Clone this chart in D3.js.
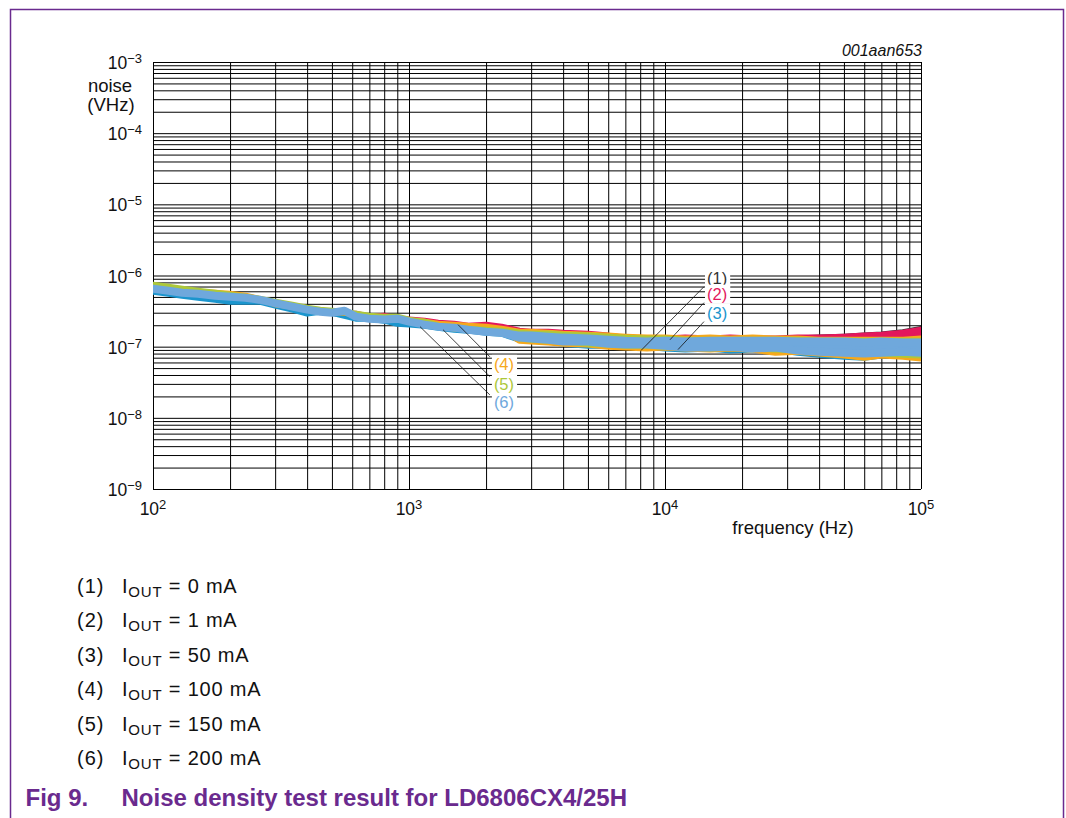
<!DOCTYPE html>
<html lang="en">
<meta charset="utf-8"/>
<head>
<style>
  body { margin: 0; background: #fff; }
  svg { display: block; font-family: Arial, "Liberation Sans", Helvetica, sans-serif; }
  .grid line { stroke: #000; stroke-width: 1; }
  .grid path { display: none; }
</style>
</head>
<body>
<svg width="1066" height="818"></svg>

<script src="https://d3js.org/d3.v7.min.js"></script>
<script>
// frequency points (Hz)
let freqHz = [100,115,130,150,175,200,230,260,300,350,400,450,500,560,620,700,800,900,1000,1150,1300,1500,1700,2000,2300,
              2700,3000,3500,4000,5000,6000,7000,8500,10000,12000,15000,18000,22000,27000,33000,40000,50000,60000,70000,85000,100000]

// noise density, nV/sqrt(Hz): upper (hi) and lower (lo) edge of each trace
let hi1 = [674,632,592,555,520,488,457,443,402,365,331,310,300,281,264,255,240,232,225,210,197,191,179,168,162,
           157,152,152,147,143,138,134,130,125,125,125,125,125,125,130,134,138,143,148,160,177]
let lo1 = [674,632,592,555,520,488,457,443,402,365,331,310,300,281,264,255,240,232,225,210,197,191,179,168,162,
           125,121,118,114,107,103,100,97,100,97,97,97,94,94,91,88,85,82,85,85,88]

let hi2 = [696,653,612,573,537,504,488,457,415,377,342,320,310,291,291,264,272,247,240,232,217,210,197,204,191,
           168,162,162,157,152,143,134,130,130,134,130,134,130,130,134,134,138,143,147,157,173]
let lo2 = [696,653,612,573,537,504,488,457,415,377,342,320,310,291,291,264,272,247,240,232,217,210,197,204,191,
           143,138,134,125,125,118,114,114,110,103,103,107,100,103,94,91,88,85,88,91,88]

let hi3 = [592,555,520,488,457,429,429,429,377,331,291,310,300,272,247,247,232,210,204,197,185,173,168,157,152,
           143,138,138,134,130,125,125,121,121,121,121,121,121,121,118,118,118,114,118,114,114]
let lo3 = [592,555,520,488,457,429,429,429,377,331,291,310,300,272,247,247,232,210,204,197,185,173,168,157,152,
           125,121,118,110,103,103,100,100,94,91,94,88,91,91,82,77,72,70,75,75,72]

let hi4 = [719,674,632,592,573,555,520,470,395,365,342,320,310,300,281,264,255,247,232,225,210,204,197,191,179,
           162,162,157,152,147,143,138,134,134,130,134,130,134,130,130,125,125,125,125,125,130]
let lo4 = [719,674,632,592,573,555,520,470,395,365,342,320,310,300,281,264,255,247,232,225,210,204,197,191,179,
           121,118,114,110,107,100,97,94,97,94,91,94,91,82,85,80,75,70,75,72,68]

let hi5 = [743,696,653,612,573,537,504,472,429,389,353,331,320,310,291,272,264,264,240,225,197,179,179,173,168,
           157,152,152,147,143,138,134,130,130,125,125,125,125,125,125,121,121,121,121,121,121]
let lo5 = [743,696,653,612,573,537,504,472,429,389,353,331,320,310,291,272,264,264,240,225,197,179,179,173,168,
           130,125,121,118,110,107,103,103,100,97,94,97,94,91,88,85,82,80,80,77,75]

let hi6 = [653,612,573,555,520,504,488,457,410,365,331,310,300,320,264,247,240,247,225,204,191,185,173,162,157,
           143,143,138,134,130,125,121,118,121,118,121,121,121,121,118,118,118,114,118,114,114]
let lo6 = [653,612,573,555,520,504,488,457,410,365,331,310,300,320,264,247,240,247,225,204,191,185,173,162,157,
           134,130,125,118,118,110,107,107,103,97,97,100,94,97,88,85,82,80,82,85,82]

let seriesIds = ["(1)","(2)","(3)","(4)","(5)","(6)"]
let seriesCurrents = ["0 mA","1 mA","50 mA","100 mA","150 mA","200 mA"]

// callout leader lines: [freq Hz, nV/sqrt(Hz)] at label end and at trace end
let calloutFrom = [[14200,696],[14200,415],[14200,225],[2070,72],[2070,38],[2070,21]]
let calloutTo   = [[8050,88],[10460,125],[11240,91],[1554,204],[1358,173],[1104,191]]

let xExponents = [2,3,4,5]
let yExponents = [-3,-4,-5,-6,-7,-8,-9]

let colors = ["#333333","#e3175c","#1b95cd","#f6a81c","#adc83a","#6fa8dc"]
let widths = [6,6,6,6,6,8]
let purple = "#6a2a8e"

let svg = d3.select("svg")
let plotL = 153, plotR = 921, plotT = 62, plotB = 489

let x = d3.scaleLog().domain([1e2, 1e5]).range([plotL, plotR])
let y = d3.scaleLog().domain([1e-9, 1e-3]).range([plotB, plotT])

// page frame
svg.append("path")
   .attr("d", "M10.5,818 V9.5 H1063.5 V818")
   .attr("fill", "none")
   .attr("stroke", purple)
   .attr("stroke-width", 1.5)

// grid
svg.append("g").attr("class", "grid")
   .attr("transform", "translate(0," + plotB + ")")
   .call(d3.axisBottom(x).tickValues(x.ticks()).tickSize(-(plotB - plotT)).tickFormat(""))
svg.append("g").attr("class", "grid")
   .attr("transform", "translate(" + plotL + ",0)")
   .call(d3.axisLeft(y).tickValues(y.ticks()).tickSize(-(plotR - plotL)).tickFormat(""))

// traces
svg.append("clipPath").attr("id", "plot")
   .append("rect").attr("x", plotL).attr("y", plotT).attr("width", plotR - plotL).attr("height", plotB - plotT)

let his = [hi1, hi2, hi3, hi4, hi5, hi6]
let los = [lo1, lo2, lo3, lo4, lo5, lo6]
let area = d3.area()
   .x(d => x(d.f))
   .y0(d => y(d.lo * 1e-9))
   .y1(d => y(d.hi * 1e-9))

let traces = svg.append("g").attr("clip-path", "url(#plot)")
his.forEach((hi, i) => {
  let pts = freqHz.map((f, k) => ({f: f, hi: hi[k], lo: los[i][k]}))
  traces.append("path")
     .attr("d", area(pts))
     .attr("fill", colors[i])
     .attr("stroke", colors[i])
     .attr("stroke-width", widths[i])
     .attr("stroke-linejoin", "round")
})

// callouts
let callouts = svg.append("g")
seriesIds.forEach((id, i) => {
  let x0 = x(calloutFrom[i][0]), y0 = y(calloutFrom[i][1] * 1e-9)
  let x1 = x(calloutTo[i][0]), y1 = y(calloutTo[i][1] * 1e-9)
  callouts.append("line")
     .attr("x1", x0).attr("y1", y0).attr("x2", x1).attr("y2", y1)
     .attr("stroke", "#111").attr("stroke-width", 0.8)
  let upper = i < 3
  let bg = callouts.append("rect").attr("fill", "#fff")
  let t = callouts.append("text")
     .attr("x", x0 + (upper ? 3 : 4))
     .attr("y", upper ? y0 - 3 : y0 + 13)
     .attr("font-size", 16.5)
     .attr("fill", colors[i])
     .text(id)
  let b = t.node().getBBox()
  bg.attr("x", b.x - 2).attr("y", b.y).attr("width", b.width + 5).attr("height", b.height + 1)
})

// tick labels
xExponents.forEach(e => {
  let t = svg.append("text")
     .attr("x", x(Math.pow(10, e))).attr("y", 515)
     .attr("text-anchor", "middle").attr("font-size", 17.5).attr("fill", "#111")
  t.append("tspan").text("10")
  t.append("tspan").attr("dy", -6).attr("font-size", 13).text(e)
})
yExponents.forEach(e => {
  let t = svg.append("text")
     .attr("x", 142).attr("y", y(Math.pow(10, e)) + 7)
     .attr("text-anchor", "end").attr("font-size", 17.5).attr("fill", "#111")
  t.append("tspan").text("10")
  t.append("tspan").attr("dy", -6).attr("font-size", 13).text("\u2212" + (-e))
})

svg.append("text").attr("x", 110).attr("y", 92).attr("text-anchor", "middle")
   .attr("font-size", 18.5).attr("fill", "#111").text("noise")
svg.append("text").attr("x", 111).attr("y", 111).attr("text-anchor", "middle")
   .attr("font-size", 18.5).attr("fill", "#111").text("(VHz)")
svg.append("text").attr("x", 793).attr("y", 534).attr("text-anchor", "middle")
   .attr("font-size", 18.5).attr("fill", "#111").text("frequency (Hz)")
svg.append("text").attr("x", 922).attr("y", 56).attr("text-anchor", "end")
   .attr("font-size", 16).attr("font-style", "italic").attr("fill", "#111").text("001aan653")

// legend
seriesIds.forEach((id, i) => {
  let yy = 593 + i * 34.4
  svg.append("text").attr("x", 77).attr("y", yy).attr("font-size", 20)
     .attr("letter-spacing", 1).attr("fill", "#111").text(id)
  let t = svg.append("text").attr("x", 122).attr("y", yy).attr("font-size", 20)
     .attr("letter-spacing", 0.8).attr("fill", "#111")
  t.append("tspan").text("I")
  t.append("tspan").attr("dy", 4).attr("font-size", 15).text("OUT")
  t.append("tspan").attr("dy", -4).text(" = " + seriesCurrents[i])
})

// caption
svg.append("text").attr("x", 25.5).attr("y", 806)
   .attr("font-size", 24).attr("font-weight", "bold").attr("fill", purple).text("Fig 9.")
svg.append("text").attr("x", 121.5).attr("y", 806)
   .attr("font-size", 24).attr("font-weight", "bold").attr("fill", purple)
   .text("Noise density test result for LD6806CX4/25H")
</script>
</body>
</html>
